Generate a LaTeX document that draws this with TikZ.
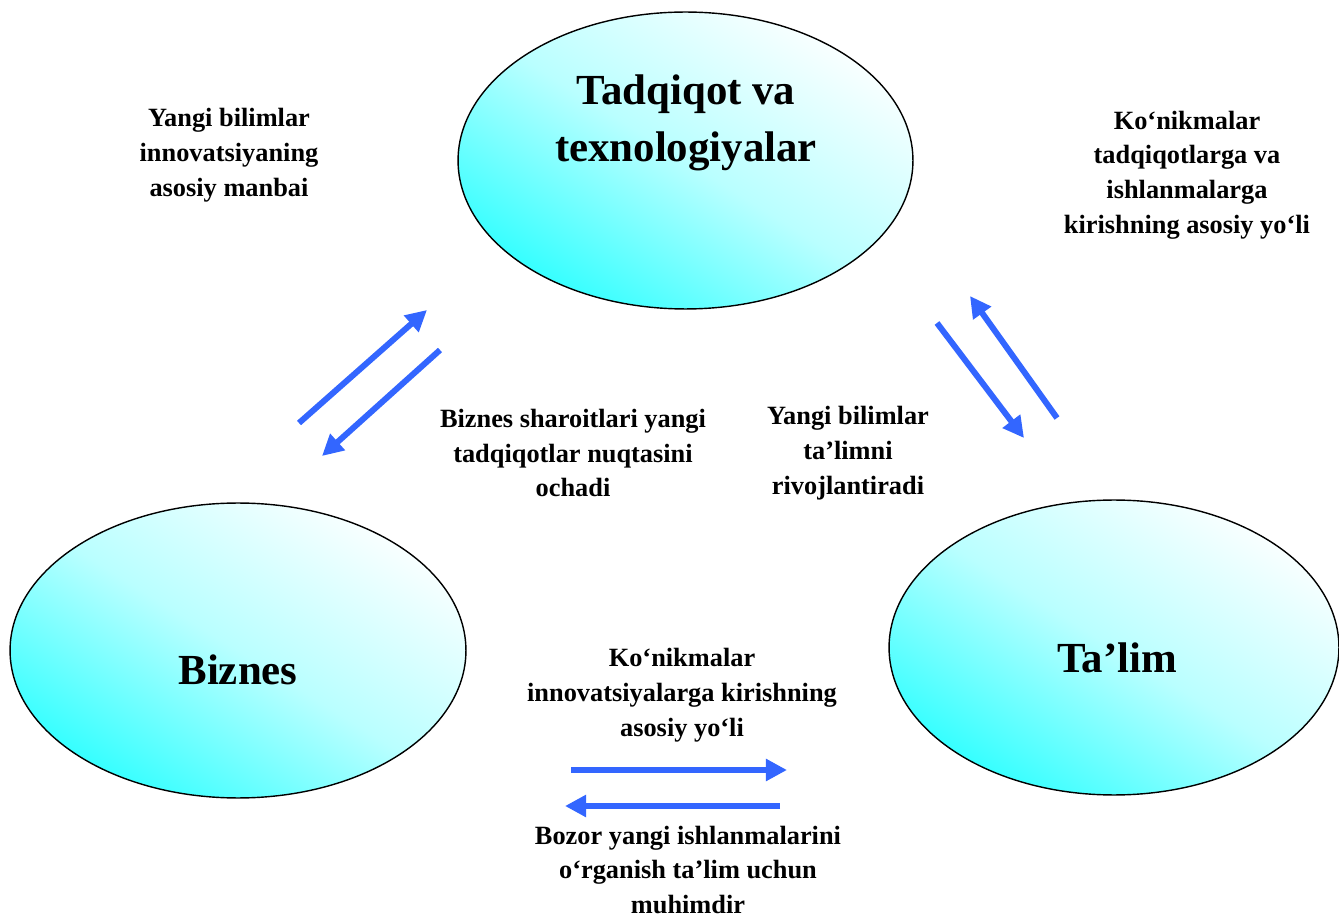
\documentclass[tikz,border=0pt]{standalone}
\usepackage{fontspec}
\setmainfont{Liberation Serif}
\usetikzlibrary{shapes.geometric,arrows.meta}
\definecolor{blobcyan}{RGB}{51,255,255}
\definecolor{blobmid}{RGB}{185,255,255}
\definecolor{blobwhite}{RGB}{250,255,255}
\definecolor{flowblue}{RGB}{51,102,255}
\tikzset{
  blob/.style={
    ellipse,
    draw=black,
    line width=0.8pt,
    inner sep=0pt,
    top color=blobwhite,
    bottom color=blobcyan,
    middle color=blobmid,
    shading angle=-32
  },
  blob-text/.style={
    align=center,
    font=\bfseries\fontsize{24.4}{32.3}\selectfont
  },
  note/.style={
    align=center,
    inner sep=0pt,
    font=\bfseries\fontsize{15}{19.8}\selectfont
  },
  flow/.style={
    draw=flowblue,
    line width=3.4pt,
    -{Triangle[length=12pt,width=12pt]}
  }
}

\begin{document}
\begin{tikzpicture}[x=0.02cm,y=-0.02cm]
  \useasboundingbox (0,0) rectangle (1339,918);
  % Ellipses
  \node[blob, minimum width=9.1cm, minimum height=5.94cm] (research) at (685.5,160.5) {};
  \node[blob, minimum width=9.12cm, minimum height=5.9cm] (business) at (238,650.5) {};
  \node[blob, minimum width=9cm, minimum height=5.9cm] (education) at (1114,647.5) {};
  \node[blob-text] (research-text) at (686,123) {Tadqiqot va\\texnologiyalar};
  \node[blob-text] (business-text) at (238,670) {Biznes};
  \node[blob-text] (education-text) at (1117,658) {Ta’lim};
  % Labels
  \node[note] (note-tl) at (229,155) {Yangi bilimlar\\innovatsiyaning\\asosiy manbai};
  \node[note] (note-tr) at (1187,175) {Ko‘nikmalar\\tadqiqotlarga va\\ishlanmalarga\\kirishning asosiy yo‘li};
  \node[note] (note-ml) at (573,453) {Biznes sharoitlari yangi\\tadqiqotlar nuqtasini\\ochadi};
  \node[note] (note-mr) at (848,453) {Yangi bilimlar\\ta’limni\\rivojlantiradi};
  \node[note] (note-bt) at (682,695) {Ko‘nikmalar\\innovatsiyalarga kirishning\\asosiy yo‘li};
  \node[note] (note-bb) at (688,870) {Bozor yangi ishlanmalarini\\o‘rganish ta’lim uchun\\muhimdir};
  % Arrow ends
  \coordinate (bt-a) at (299,423); \coordinate (bt-b) at (427,310);
  \coordinate (tb-a) at (440,350); \coordinate (tb-b) at (322,456);
  \coordinate (te-a) at (937,323); \coordinate (te-b) at (1024,438);
  \coordinate (et-a) at (1057,418); \coordinate (et-b) at (970,296);
  \coordinate (be-a) at (571,770); \coordinate (be-b) at (787,770);
  \coordinate (eb-a) at (780,806); \coordinate (eb-b) at (565,806);
  % Arrows
  \draw[flow] (bt-a) -- (bt-b);
  \draw[flow] (tb-a) -- (tb-b);
  \draw[flow] (te-a) -- (te-b);
  \draw[flow] (et-a) -- (et-b);
  \draw[flow] (be-a) -- (be-b);
  \draw[flow] (eb-a) -- (eb-b);
\end{tikzpicture}
\end{document}
